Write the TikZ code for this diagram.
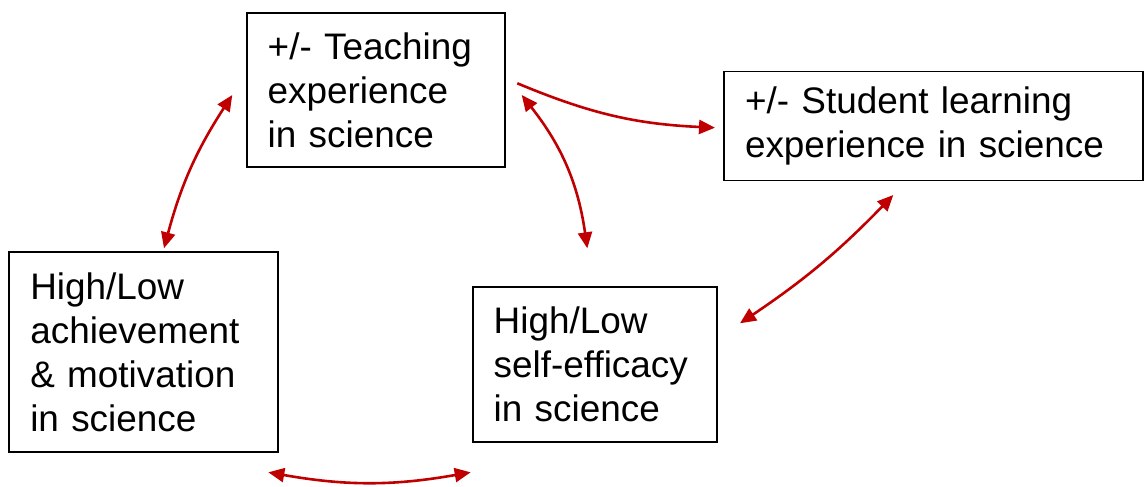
\documentclass[tikz,border=0pt]{standalone}
\usepackage{fontspec}
\setmainfont{Liberation Sans}
\usetikzlibrary{arrows.meta}
\definecolor{arrowred}{RGB}{192,0,0}
\begin{document}
\begin{tikzpicture}[x=1pt,y=-1pt,
  box/.style={draw=black, line width=1.9pt, inner xsep=21pt, inner ysep=0pt,
    align=left, font=\fontsize{36.9}{44}\selectfont},
  link/.style={draw=arrowred, line width=2.6pt,
    -{Triangle[length=16pt,width=14pt]}},
  dlink/.style={draw=arrowred, line width=2.6pt,
    {Triangle[length=16pt,width=14pt]}-{Triangle[length=16pt,width=14pt]}}]
\useasboundingbox (0,0) rectangle (1144,487);

\node[box, minimum width=258.3pt, minimum height=154.6pt, text width=216.3pt] (A) at (375.85,90) {+/- Teaching\\experience\\in science};
\node[box, minimum width=419pt, minimum height=109pt, text width=377pt] (B) at (933.5,126) {+/- Student learning\\experience in science};
\node[box, minimum width=268.4pt, minimum height=200.6pt, text width=226.4pt] (C) at (143.5,352) {High/Low\\achievement\\\& motivation\\in science};
\node[box, minimum width=244pt, minimum height=154.4pt, text width=202pt] (D) at (594.7,364.5) {High/Low\\self-efficacy\\in science};

\coordinate (a1s) at (517.3,83.3);
\coordinate (a1e) at (715,127.7);
\coordinate (a2s) at (164,248.3);
\coordinate (a2e) at (232.3,95);
\coordinate (a3s) at (521.7,95);
\coordinate (a3e) at (587.3,248.3);
\coordinate (a4s) at (740,323.3);
\coordinate (a4e) at (893.3,195);
\coordinate (a5s) at (268.3,472.3);
\coordinate (a5e) at (470.7,472.3);

\draw[link] (a1s) to[bend right=10] (a1e);
\draw[dlink] (a2s) to[bend left=9] (a2e);
\draw[dlink] (a3s) to[bend left=15] (a3e);
\draw[dlink] (a4s) to[bend right=6] (a4e);
\draw[dlink] (a5s) to[bend right=10] (a5e);
\end{tikzpicture}
\end{document}
